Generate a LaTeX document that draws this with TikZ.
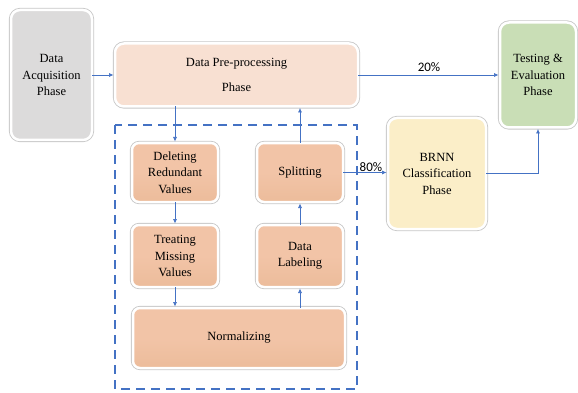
\documentclass[tikz,border=0pt]{standalone}
\usepackage{fontspec}
\setmainfont{Liberation Serif}
\newfontfamily\pctfont{Carlito}
\usepackage{tikz}
\usetikzlibrary{positioning}
\usetikzlibrary{arrows.meta}
\definecolor{flowblue}{HTML}{4472C4}
\definecolor{acqgray}{HTML}{DCDBDB}
\definecolor{prepeach}{HTML}{F8E0D2}
\definecolor{stepsalmon}{HTML}{F2C4A7}
\definecolor{brnnyellow}{HTML}{FBEEC8}
\definecolor{testgreen}{HTML}{C9DEB6}
\tikzset{
    pipeline/.style={
            x=1pt,y=1pt,
            font=\rmfamily\fontsize{12.5}{16.5}\selectfont,
            phasebox/.style={rounded corners=9pt, draw=white, line width=2.5pt,
                    preaction={draw=black!22, line width=4.2pt},
                    align=center, inner sep=2pt, outer sep=0pt},
            stepbox/.style={phasebox, rounded corners=7pt,
                    top color=stepsalmon, bottom color=stepsalmon!88!brown,
                    middle color=stepsalmon,
                    minimum width=86pt},
            flow/.style={-{Latex[length=4.5pt,width=4pt]}, flowblue, line width=0.6pt, shorten >=1.5pt},
            pct/.style={text=black, font=\pctfont\fontsize{13}{15}\selectfont}
        }
    }
\begin{document}
\begin{tikzpicture}[pipeline]
        \useasboundingbox (0,0) rectangle (578,-393);
        \draw [flowblue, dashed, line width=2.2pt, dash pattern=on 9pt off 6pt] (115,-125) rectangle (357,-389);

        \node (acq) [phasebox, fill=acqgray, minimum width=81pt, minimum height=130pt] at (51.5,-75) {Data\\Acquisition\\Phase};
        \node (pre) [phasebox, fill=prepeach, minimum width=243pt, minimum height=63pt, right=23pt of acq,
            font=\rmfamily\fontsize{12.5}{25}\selectfont] {Data Pre-processing\\Phase};
        \node (test) [phasebox, fill=testgreen, minimum width=76pt, minimum height=105pt, right=142pt of pre] {Testing \&\\Evaluation\\Phase};
        \node (del) [stepbox, minimum height=59pt] at (175,-172.5) {Deleting\\Redundant\\Values};
        \node (spl) [stepbox, minimum height=59pt, right=39pt of del] {Splitting};
        \node (treat) [stepbox, minimum height=62pt, below=23pt of del] {Treating\\Missing\\Values};
        \node (lab) [stepbox, minimum height=62pt, right=39pt of treat] {Data\\Labeling};
        \node (norm) [stepbox, minimum width=212pt, minimum height=60pt, below right=21pt and -85pt of treat] {Normalizing};
        \node (brnn) [phasebox, fill=brnnyellow, minimum width=98pt, minimum height=111pt, right=45pt of spl, yshift=-1pt] {BRNN\\Classification\\Phase};

        \draw [flow] (acq) -- (pre);
        \draw [flow] (pre) -- (test) node [midway, above, pct] {20\%};
        \draw [flow] (del.north |- pre.south) -- (del.north);
        \draw [flow] (del) -- (treat);
        \draw [flow] (treat.south) -- (treat.south |- norm.north);
        \draw [flow] (lab.south |- norm.north) -- (lab.south);
        \draw [flow] (lab) -- (spl);
        \draw [flow] (spl.north) -- (spl.north |- pre.south);
        \draw [flow] (spl.east) -- (spl.east -| brnn.west) node [pos=0.62, above, pct, inner sep=1pt] {80\%};
        \draw [flow] (brnn.east) -| (test.south);
    \end{tikzpicture}
\end{document}
